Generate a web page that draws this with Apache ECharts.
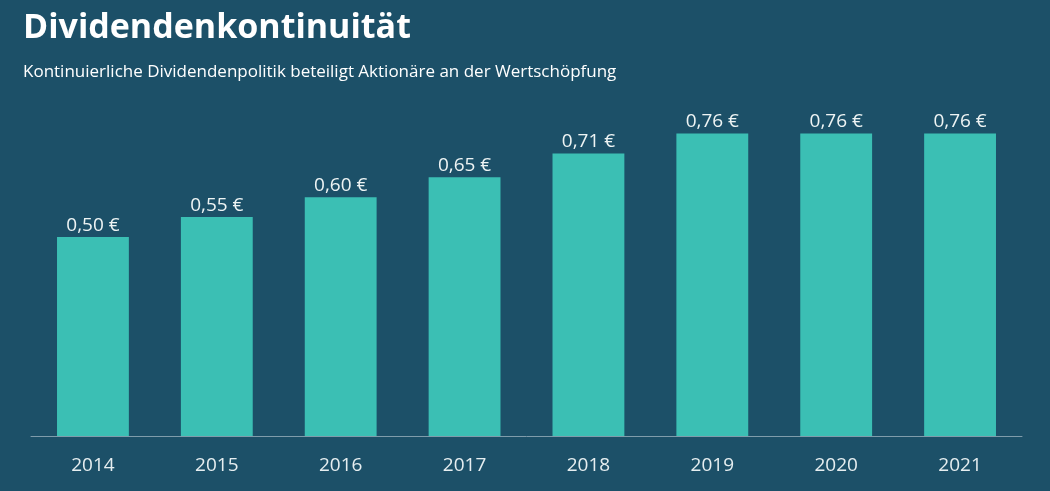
<!DOCTYPE html>
<html><head><meta charset="utf-8">
<script src="https://cdn.jsdelivr.net/npm/echarts@6/dist/echarts.min.js"></script>
<style>html,body{margin:0;padding:0;background:#1c5068;}#c{width:1050px;height:491px;}</style>
</head><body><div id="c"></div>
<script>
const years = ['2014','2015','2016','2017','2018','2019','2020','2021'];
const dividends = [0.50, 0.55, 0.60, 0.65, 0.71, 0.76, 0.76, 0.76];
const titleText = 'Dividendenkontinuität';
const subtitleText = 'Kontinuierliche Dividendenpolitik beteiligt Aktionäre an der Wertschöpfung';

const chart = echarts.init(document.getElementById('c'));
chart.setOption({
  backgroundColor: '#1c5068',
  animation: false,
  title: {
    text: titleText,
    subtext: subtitleText,
    left: 18, top: 6,
    itemGap: 19,
    textStyle: {color: '#ffffff', fontFamily: 'Open Sans', fontWeight: 'bold', fontSize: 34},
    subtextStyle: {color: '#ffffff', fontFamily: 'Open Sans', fontSize: 17}
  },
  grid: {left: 31, right: 28, top: 38, bottom: 55},
  xAxis: {
    type: 'category', data: years,
    axisLine: {lineStyle: {color: '#7f9cab', width: 1}},
    axisTick: {show: false},
    axisLabel: {color: '#e6eef0', fontFamily: 'Open Sans', fontSize: 19, margin: 20}
  },
  yAxis: {type: 'value', min: 0, max: 1.0, show: false, splitLine: {show: false}},
  series: [{
    type: 'bar', data: dividends, barWidth: '58%',
    itemStyle: {color: '#3bbfb4'},
    label: {
      show: true, position: 'top', distance: 2,
      color: '#eef4f4', fontFamily: 'Open Sans', fontSize: 19,
      formatter: p => p.value.toFixed(2).replace('.', ',') + ' €'
    }
  }]
});
</script></body></html>
